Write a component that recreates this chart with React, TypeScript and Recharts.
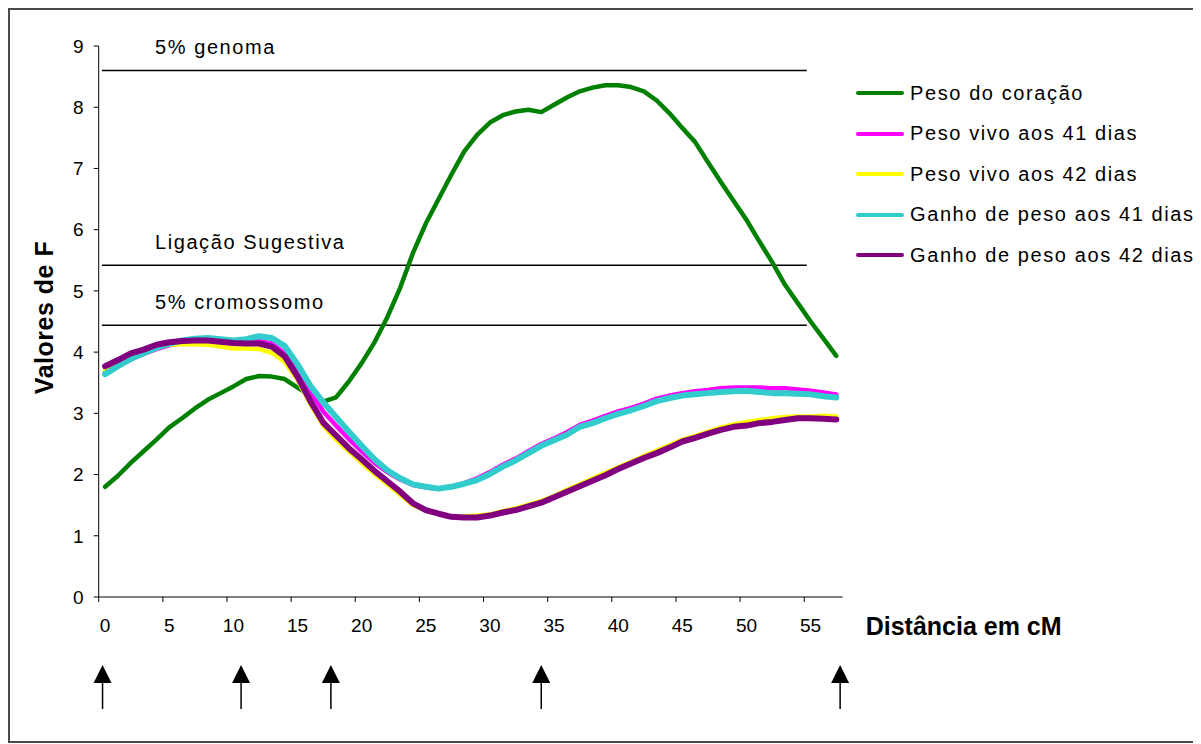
import { LineChart, Line, XAxis, YAxis, ReferenceLine, ReferenceDot, Legend } from 'recharts';

// distância em cM (uma categoria por cM)
const distancia = Array.from({ length: 58 }, (_, i) => i);

const pesoCoracao = [
  1.8, 1.98, 2.19, 2.38, 2.57, 2.77, 2.92, 3.08, 3.22, 3.33,
  3.44, 3.56, 3.61, 3.6, 3.56, 3.42, 3.29, 3.19, 3.26, 3.52,
  3.82, 4.16, 4.57, 5.05, 5.62, 6.1, 6.5, 6.9, 7.28, 7.55,
  7.75, 7.87, 7.93, 7.96, 7.92, 8.04, 8.16, 8.26, 8.32, 8.36,
  8.36, 8.33, 8.26, 8.11, 7.9, 7.66, 7.43, 7.1, 6.78, 6.47,
  6.16, 5.81, 5.47, 5.1, 4.8, 4.5, 4.22, 3.94,
];

const pesoVivo41 = [
  3.68, 3.78, 3.88, 3.97, 4.05, 4.11, 4.15, 4.17, 4.17, 4.16,
  4.14, 4.15, 4.18, 4.14, 3.98, 3.72, 3.36, 3.03, 2.8, 2.58,
  2.38, 2.19, 2.04, 1.92, 1.83, 1.79, 1.77, 1.8, 1.86, 1.94,
  2.04, 2.16, 2.26, 2.38, 2.5, 2.59, 2.69, 2.81, 2.88, 2.96,
  3.03, 3.09, 3.16, 3.24, 3.29, 3.33, 3.36, 3.38, 3.41, 3.42,
  3.42, 3.42, 3.41, 3.41, 3.39, 3.37, 3.34, 3.31,
];

const pesoVivo42 = [
  3.71, 3.82, 3.93, 4.02, 4.09, 4.12, 4.13, 4.13, 4.12, 4.09,
  4.06, 4.06, 4.05, 3.99, 3.84, 3.55, 3.15, 2.8, 2.57, 2.38,
  2.19, 2.01, 1.84, 1.67, 1.5, 1.41, 1.36, 1.32, 1.32, 1.33,
  1.35, 1.4, 1.45, 1.51, 1.57, 1.65, 1.75, 1.84, 1.94, 2.03,
  2.12, 2.21, 2.3, 2.39, 2.48, 2.57, 2.63, 2.7, 2.77, 2.82,
  2.86, 2.89, 2.92, 2.94, 2.95, 2.95, 2.96, 2.95,
];

const ganhoPeso41 = [
  3.64, 3.77, 3.89, 3.98, 4.07, 4.14, 4.19, 4.22, 4.23, 4.21,
  4.19, 4.21, 4.26, 4.23, 4.1, 3.8, 3.45, 3.18, 2.94, 2.7,
  2.47, 2.25, 2.07, 1.94, 1.84, 1.8, 1.77, 1.8, 1.85, 1.91,
  2.01, 2.13, 2.23, 2.35, 2.47, 2.56, 2.65, 2.78, 2.84, 2.92,
  2.99, 3.05, 3.12, 3.2, 3.25, 3.29, 3.31, 3.33, 3.35, 3.36,
  3.37, 3.35, 3.33, 3.33, 3.32, 3.31, 3.28, 3.26,
];

const ganhoPeso42 = [
  3.77, 3.87, 3.98, 4.04, 4.12, 4.16, 4.18, 4.19, 4.19, 4.17,
  4.15, 4.14, 4.14, 4.09, 3.93, 3.6, 3.2, 2.85, 2.64, 2.43,
  2.25, 2.06, 1.89, 1.72, 1.53, 1.42, 1.36, 1.31, 1.3, 1.3,
  1.33, 1.38, 1.42, 1.48, 1.54, 1.63, 1.72, 1.81, 1.9, 1.99,
  2.09, 2.18, 2.27, 2.35, 2.44, 2.54, 2.6, 2.67, 2.73, 2.78,
  2.8, 2.84, 2.86, 2.89, 2.92, 2.92, 2.91, 2.9,
];

const xTicks = [0, 5, 10, 15, 20, 25, 30, 35, 40, 45, 50, 55];
const yTicks = [0, 1, 2, 3, 4, 5, 6, 7, 8, 9];

// limiares de significância
const limiarNomes = ['5% genoma', 'Ligação Sugestiva', '5% cromossomo'];
const limiarValores = [8.6, 5.42, 4.44];

// posição dos marcadores (setas)
const marcadores = [-0.2, 10.6, 17.6, 34, 57.3];

const FONT = "'Liberation Sans', Arial, sans-serif";

const series = [
  { key: 'coracao', name: 'Peso do coração', color: '#008000', width: 4.5, values: pesoCoracao },
  { key: 'vivo41', name: 'Peso vivo aos 41 dias', color: '#FF00FF', width: 4.5, values: pesoVivo41 },
  { key: 'vivo42', name: 'Peso vivo aos 42 dias', color: '#FFFF00', width: 4.5, values: pesoVivo42 },
  { key: 'ganho41', name: 'Ganho de peso aos 41 dias', color: '#33CCCC', width: 6, values: ganhoPeso41 },
  { key: 'ganho42', name: 'Ganho de peso aos 42 dias', color: '#800080', width: 6, values: ganhoPeso42 },
];

const data = distancia.map((d, i) => {
  const row: Record<string, number> = { d };
  series.forEach((s) => {
    row[s.key] = s.values[i];
  });
  return row;
});

function EtiquetaLimiar({ viewBox, texto }: any) {
  return (
    <text
      x={viewBox.x + 53}
      y={viewBox.y - 16}
      fontFamily={FONT}
      fontSize={20}
      letterSpacing={1.6}
      fill="#000"
    >
      {texto}
    </text>
  );
}

function TituloY({ viewBox }: any) {
  const x = viewBox.x + 14;
  const y = viewBox.y + viewBox.height / 2 - 4;
  return (
    <text
      x={x}
      y={y}
      transform={`rotate(-90, ${x}, ${y})`}
      textAnchor="middle"
      fontFamily={FONT}
      fontSize={25}
      fontWeight="bold"
      letterSpacing={0.5}
      fill="#000"
    >
      Valores de F
    </text>
  );
}

function TituloX({ viewBox }: any) {
  return (
    <text
      x={viewBox.x + viewBox.width + 23}
      y={viewBox.y + 38}
      fontFamily={FONT}
      fontSize={25}
      fontWeight="bold"
      fill="#000"
    >
      Distância em cM
    </text>
  );
}

function Seta({ cx, cy }: any) {
  if (cx == null || cy == null) return null;
  const tip = cy + 68;
  const base = cy + 86;
  return (
    <g>
      <polygon points={`${cx},${tip} ${cx - 9},${base} ${cx + 9},${base}`} fill="#000" />
      <line x1={cx} y1={base} x2={cx} y2={cy + 112} stroke="#000" strokeWidth={1.5} />
    </g>
  );
}

function Legenda({ payload }: any) {
  // mantém a ordem das séries (o Recharts ordena o payload por nome)
  const items = series.map((s) => {
    const found = (payload || []).find((p: any) => p.value === s.name);
    return { name: s.name, color: found ? found.color : s.color };
  });
  return (
    <div style={{ fontFamily: FONT }}>
      {items.map((entry) => (
        <div
          key={entry.name}
          style={{ display: 'flex', alignItems: 'center', height: 40.5 }}
        >
          <div
            style={{
              width: 48,
              height: 4,
              borderRadius: 2,
              background: entry.color,
              marginRight: 6,
            }}
          />
          <span style={{ fontSize: 20, letterSpacing: 1.6, color: '#000', whiteSpace: 'nowrap' }}>
            {entry.name}
          </span>
        </div>
      ))}
    </div>
  );
}

export default function App() {
  return (
    <div
      style={{
        width: 1188,
        height: 731,
        border: '2px solid #4a4a4a',
        background: '#fff',
      }}
    >
      <LineChart
        width={1188}
        height={731}
        data={data}
        margin={{ top: 36, right: 355.3, bottom: 114, left: 28.7 }}
      >
        <XAxis
          dataKey="d"
          type="number"
          domain={[-0.5, 57.5]}
          ticks={xTicks}
          interval={0}
          axisLine={{ stroke: '#000', strokeWidth: 1 }}
          tickLine={{ stroke: '#000', transform: 'translate(-6.4, 0)' }}
          tickSize={5}
          tickMargin={17}
          tick={{ fill: '#000', fontSize: 19, fontFamily: FONT }}
          label={<TituloX />}
        />
        <YAxis
          type="number"
          domain={[0, 9]}
          ticks={yTicks}
          interval={0}
          width={60}
          axisLine={{ stroke: '#000', strokeWidth: 1 }}
          tickLine={{ stroke: '#000' }}
          tickSize={5}
          tickMargin={10}
          tick={{ fill: '#000', fontSize: 19, fontFamily: FONT }}
          label={<TituloY />}
        />
        {limiarValores.map((v, i) => (
          <ReferenceLine
            key={limiarNomes[i]}
            segment={[
              { x: -0.25, y: v },
              { x: 54.7, y: v },
            ]}
            stroke="#000"
            strokeWidth={1.5}
            label={<EtiquetaLimiar texto={limiarNomes[i]} />}
          />
        ))}
        {marcadores.map((m) => (
          <ReferenceDot
            key={m}
            x={m}
            y={0}
            r={0}
            ifOverflow="visible"
            shape={(p: any) => <Seta cx={p.cx} cy={p.cy} />}
          />
        ))}
        {series.map((s) => (
          <Line
            key={s.key}
            type="linear"
            dataKey={s.key}
            name={s.name}
            stroke={s.color}
            strokeWidth={s.width}
            strokeLinejoin="round"
            strokeLinecap="round"
            dot={false}
            activeDot={false}
            isAnimationActive={false}
          />
        ))}
        <Legend
          layout="vertical"
          align="center"
          verticalAlign="middle"
          content={<Legenda />}
          wrapperStyle={{ left: 846, top: 63, width: 340 }}
        />
      </LineChart>
    </div>
  );
}
